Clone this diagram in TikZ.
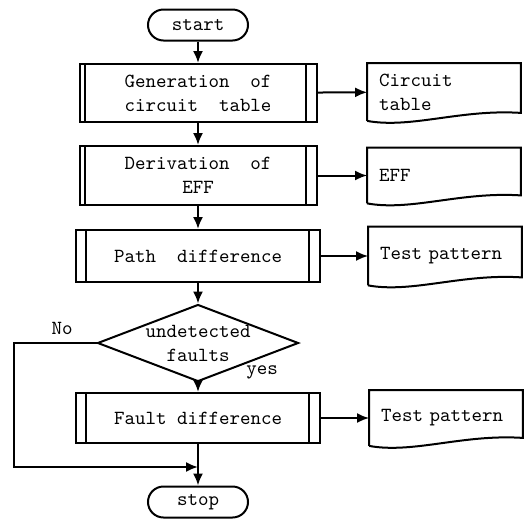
\documentclass[tikz,border=0pt]{standalone}
\usepackage{tikz}
\usetikzlibrary{arrows.meta,shapes.geometric}
\tikzset{
  leftbar/.store in=\leftbar, leftbar=5pt,
  procbox/.style={draw, line width=1pt, font=\ttfamily, align=center,
    minimum width=118.5pt, minimum height=29pt, inner sep=0pt,
    path picture={
      \draw[line width=1pt]
        ([xshift=\leftbar]path picture bounding box.north west) -- ([xshift=\leftbar]path picture bounding box.south west)
        ([xshift=-5.5pt]path picture bounding box.north east) -- ([xshift=-5.5pt]path picture bounding box.south east);
    }},
  docbox/.style={font=\ttfamily, align=left, text width=65pt, inner xsep=5.75pt,
    minimum height=28pt,
    append after command={\pgfextra{
      \draw[line width=1pt] (\tikzlastnode.south west) -- (\tikzlastnode.north west)
        -- (\tikzlastnode.north east) -- ([yshift=4pt]\tikzlastnode.south east)
        .. controls ([xshift=-30pt,yshift=6pt]\tikzlastnode.south east)
        and ([xshift=22pt,yshift=-4pt]\tikzlastnode.south west) .. (\tikzlastnode.south west);
    }}},
  termbox/.style={draw, line width=1pt, rounded corners=7.75pt, font=\ttfamily,
    minimum width=50pt, minimum height=15.5pt, inner sep=0pt},
  decbox/.style={draw, diamond, line width=1pt, font=\ttfamily, align=center,
    aspect=2.6, inner sep=0pt, minimum width=100.5pt, minimum height=38.5pt},
  arr/.style={-{Latex[length=6pt,width=5pt]}, line width=1pt},
  lbl/.style={font=\ttfamily},
}
\begin{document}
\begin{tikzpicture}[x=0.5pt,y=-0.5pt]
  \useasboundingbox (0,0) rectangle (525,521);
  % main column
  \node[termbox] (start) at (198,25) {start};
  \node[procbox, leftbar=2.5pt] (gen) at (198,93) {Generation\ \ of\\circuit\ \ table};
  \node[procbox, leftbar=2.5pt, minimum height=29.5pt] (der) at (198,175.5) {Derivation\ \ of\\EFF};
  \node[procbox, minimum width=122pt, minimum height=26pt] (pathdiff) at (198,256) {Path\ \ difference};
  \node[decbox] (undet) at (198,343) {undetected\\faults};
  \node[procbox, minimum width=122pt, minimum height=25pt] (faultdiff) at (198,418) {Fault\ difference};
  \node[termbox] (stop) at (198,502) {stop};
  % output documents
  \node[docbox, minimum height=28.5pt] (ctable) at (444,92) {Circuit\\table};
  \node[docbox, minimum height=27.5pt] (eff) at (444,175.5) {EFF};
  \node[docbox, minimum height=29pt] (tpat) at (445,256) {Test\ pattern};
  \node[docbox, minimum height=27.5pt] (tpatb) at (446,418) {Test\ pattern};
  % labels
  \node[lbl] (nolbl) at (62,328) {No};
  \node[lbl] (yeslbl) at (262,372) {yes};
  \coordinate (loopleft) at (14,467);

  \draw[arr] (start) -- (gen);
  \draw[arr] (gen) -- (der);
  \draw[arr] (der) -- (pathdiff);
  \draw[arr] (pathdiff) -- (undet);
  \draw[arr] (undet) -- (faultdiff);
  \draw[arr] (faultdiff) -- (stop);
  \draw[arr] (gen) -- (ctable);
  \draw[arr] (der) -- (eff);
  \draw[arr] (pathdiff) -- (tpat);
  \draw[arr] (faultdiff) -- (tpatb);
  \draw[arr] (undet.west) -| (loopleft) -- (loopleft -| stop.north);
\end{tikzpicture}
\end{document}
